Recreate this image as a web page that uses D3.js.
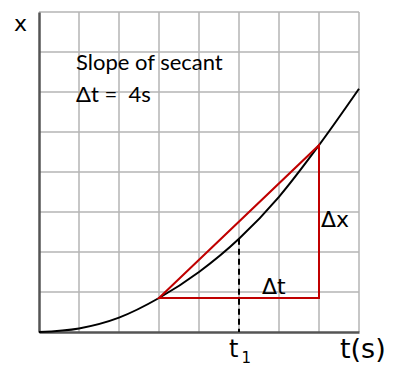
<!DOCTYPE html>
<html>
<head>
<meta charset="utf-8">
<script src="https://cdn.jsdelivr.net/npm/d3@7"></script>
<style>
  html, body { margin: 0; padding: 0; background: #fff; }
  svg { display: block; }
</style>
</head>
<body>
<svg id="chart" width="395" height="366"></svg>
<script>
// Position–time curve x(t), sampled once per second
const timeValues = [0, 1, 2, 3, 4, 5, 6, 7, 8];
const positionValues = [0, 0.09, 0.36, 0.85, 1.5, 2.33, 3.38, 4.67, 6.08];

// Secant between t = 3 s and t = 7 s (Δt = 4 s), and the marked time t1
const secantTimes = [3, 7];
const secantPositions = [0.85, 4.67];
const markTime = 5;
const markPosition = 2.33;

const gridTicks = [0, 1, 2, 3, 4, 5, 6, 7, 8];

(function draw() {
  const svg = d3.select("#chart");
  const plotLeft = 39, plotRight = 359, plotTop = 12, plotBottom = 332;

  const xScale = d3.scaleLinear().domain([0, 8]).range([plotLeft, plotRight]);
  const yScale = d3.scaleLinear().domain([0, 8]).range([plotBottom, plotTop]);

  // Grid
  const grid = svg.append("g").attr("stroke", "#b4b4b4").attr("stroke-width", 1.5);
  grid.selectAll("line.v").data(gridTicks.slice(1)).join("line")
    .attr("class", "v")
    .attr("x1", d => xScale(d)).attr("x2", d => xScale(d))
    .attr("y1", plotTop).attr("y2", plotBottom);
  grid.selectAll("line.h").data(gridTicks.slice(1)).join("line")
    .attr("class", "h")
    .attr("x1", plotLeft).attr("x2", plotRight)
    .attr("y1", d => yScale(d)).attr("y2", d => yScale(d));

  // Axes
  const xAxis = d3.axisBottom(xScale).tickValues([]).tickSizeOuter(0);
  const yAxis = d3.axisLeft(yScale).tickValues([]).tickSizeOuter(0);
  svg.append("g").attr("transform", `translate(0,${plotBottom})`).call(xAxis)
    .select(".domain").attr("stroke", "#555").attr("stroke-width", 2.5);
  svg.append("g").attr("transform", `translate(${plotLeft},0)`).call(yAxis)
    .select(".domain").attr("stroke", "#555").attr("stroke-width", 2.5);

  // Curve
  const curvePoints = timeValues.map((t, i) => [t, positionValues[i]]);
  const line = d3.line()
    .x(d => xScale(d[0])).y(d => yScale(d[1]))
    .curve(d3.curveMonotoneX);
  svg.append("path").datum(curvePoints)
    .attr("d", line).attr("fill", "none")
    .attr("stroke", "#000").attr("stroke-width", 2);

  // Secant triangle
  const tri = [
    [secantTimes[0], secantPositions[0]],
    [secantTimes[1], secantPositions[1]],
    [secantTimes[1], secantPositions[0]]
  ];
  svg.append("path").datum(tri)
    .attr("d", d3.line().x(d => xScale(d[0])).y(d => yScale(d[1])).curve(d3.curveLinearClosed))
    .attr("fill", "none").attr("stroke", "#c00000").attr("stroke-width", 2)
    .attr("stroke-linejoin", "miter");

  // Dashed marker at t1
  svg.append("line")
    .attr("x1", xScale(markTime)).attr("x2", xScale(markTime))
    .attr("y1", yScale(markPosition)).attr("y2", yScale(0))
    .attr("stroke", "#000").attr("stroke-width", 2)
    .attr("stroke-dasharray", "6,4");

  // Labels
  const verdana = "DejaVu Sans, Verdana, sans-serif";
  const humanist = "Lato, Open Sans, sans-serif";

  svg.append("text").attr("x", 14).attr("y", 31)
    .attr("font-family", verdana).attr("font-size", 22).text("x");

  svg.append("text").attr("x", 76).attr("y", 70)
    .attr("font-family", humanist).attr("font-size", 22).text("Slope of secant");
  svg.append("text").attr("x", 76).attr("y", 102)
    .attr("font-family", humanist).attr("font-size", 22)
    .style("white-space", "pre")
    .text("Δt =  4s");

  svg.append("text").attr("x", 321).attr("y", 227)
    .attr("font-family", verdana).attr("font-size", 22).text("Δx");
  svg.append("text").attr("x", 262).attr("y", 294)
    .attr("font-family", verdana).attr("font-size", 22).text("Δt");

  const t1 = svg.append("text").attr("x", 229).attr("y", 357)
    .attr("font-family", verdana).attr("font-size", 24);
  t1.append("tspan").text("t");
  t1.append("tspan").attr("font-size", 15).attr("dy", 6).attr("dx", 3).text("1");

  svg.append("text").attr("x", 340).attr("y", 358)
    .attr("font-family", verdana).attr("font-size", 27).text("t(s)");
})();
</script>
</body>
</html>
